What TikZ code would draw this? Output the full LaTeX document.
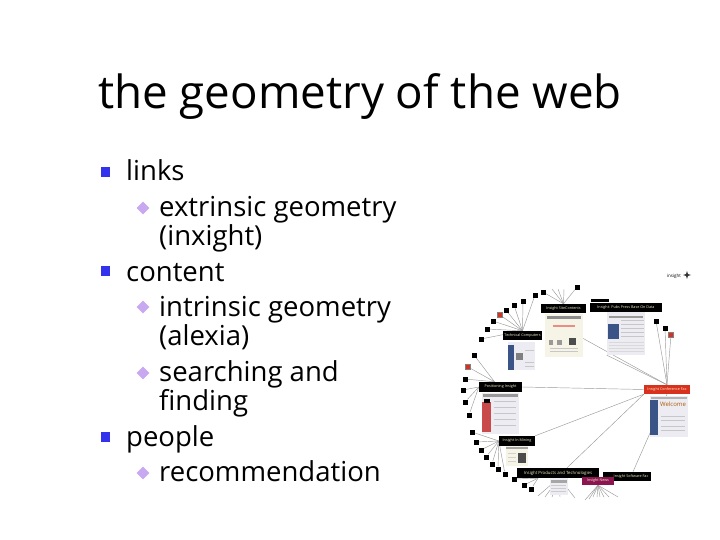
\documentclass[tikz,border=0pt]{standalone}
\usepackage{fontspec}
\setmainfont{Open Sans}
\usetikzlibrary{shapes.geometric,backgrounds}
\definecolor{bulletblue}{HTML}{3333EE}
\definecolor{bulletlilac}{HTML}{C8A8F0}
\definecolor{hubred}{HTML}{D8321E}
\definecolor{newsred}{HTML}{8C1450}
\definecolor{treegrey}{HTML}{9A9A9A}
\definecolor{pagecream}{HTML}{F6F4E6}
\definecolor{pagegrey}{HTML}{ECECF2}
\definecolor{sidenavy}{HTML}{3A5488}
\definecolor{sidered}{HTML}{C84A4A}
\definecolor{labelcream}{HTML}{F4EFC8}
\tikzset{
  titletext/.style={anchor=base west,inner sep=0pt,font=\fontsize{45.7}{46}\selectfont},
  itemtext/.style={anchor=base west,inner sep=0pt,font=\fontsize{27.5}{28}\selectfont},
  subtext/.style={anchor=base west,inner sep=0pt,font=\fontsize{27.5}{28}\selectfont},
  mainbullet/.style={fill=bulletblue,minimum size=9.5pt,inner sep=0pt},
  subbullet/.style={diamond,fill=bulletlilac,minimum size=13pt,inner sep=0pt},
  leaf/.style={fill=black,minimum size=5pt,inner sep=0pt},
  redleaf/.style={fill=hubred,draw=black!50,line width=0.4pt,minimum size=5pt,inner sep=0pt},
  pagelabel/.style={fill=black,text=labelcream,inner sep=0pt,font=\fontsize{3.7}{4}\selectfont},
  treeline/.style={treegrey,line width=0.45pt},
  page/.style={fill=#1,inner sep=0pt},
}
\begin{document}
\begin{tikzpicture}[x=1pt,y=-1pt]
  \useasboundingbox (0,0) rectangle (720,540);
  % title
  \node[titletext] (title) at (98,109) {the geometry of the web};
  % main items
  \foreach \name/\ypos/\txt in {links/181/links,content/281/content,people/446/people}
    \node[itemtext] (\name) at (126,\ypos) {\txt};
  \node[mainbullet] (bulletA) at (105.5,172) {};
  \node[mainbullet] (bulletB) at (105.5,271) {};
  \node[mainbullet] (bulletC) at (105.5,437) {};
  % sub items
  \foreach \name/\ypos/\txt in {extrinsic/216/extrinsic geometry,inxight/245/(inxight),
      intrinsic/316/intrinsic geometry,alexia/345/(alexia),searching/381/searching and,
      finding/410/finding,recommend/481/recommendation}
    \node[subtext] (\name) at (159,\ypos) {\txt};
  \foreach \name/\ypos in {diaA/208,diaB/307,diaC/373,diaD/473}
    \node[subbullet] (\name) at (143,\ypos) {};
  % logo
  \node[inner sep=0pt,font=\fontsize{4.5}{5}\selectfont] (logo) at (674,276) {insight};
  \node[star,star points=4,star point ratio=3,fill=black!80,minimum size=8pt,inner sep=0pt] (logostar) at (687,275) {};
  % thumbnails of the pages
  \node[page=pagecream,minimum width=38pt,minimum height=43pt] (pageA) at (564,335.5) {};
  \node[page=pagegrey,minimum width=38pt,minimum height=43pt] (pageB) at (626,333.5) {};
  \node[page=pagegrey,minimum width=27pt,minimum height=28pt] (pageC) at (521.5,356) {};
  \node[page=pagegrey,minimum width=37pt,minimum height=41pt] (pageD) at (500.5,413.5) {};
  \node[page=pagegrey,minimum width=38pt,minimum height=41pt] (pageE) at (669,416.5) {};
  \node[page=pagecream,minimum width=22pt,minimum height=20pt] (pageF) at (517,456) {};
  \node[page=pagegrey,minimum width=18pt,minimum height=17pt] (pageG) at (559,486.5) {};
  % details on the thumbnails
  \fill[black!45] (547,316) rectangle (581,319);
  \fill[hubred!55] (553,325) rectangle (575,327);
  \fill[black!70] (569,338) rectangle (576,345);
  \fill[black!40] (549,340) rectangle (553,345);
  \fill[black!40] (557,340) rectangle (562,345);
  \foreach \ypos in {348,351} \fill[black!22] (550,\ypos) rectangle (578,\ypos+1);
  \fill[sidenavy] (608,324) rectangle (619,339);
  \fill[black!40] (609,316) rectangle (643,318);
  \foreach \ypos in {320,324,328,332,336} \fill[black!22] (621,\ypos) rectangle (644,\ypos+1.2);
  \foreach \ypos in {342,345,348,351} \fill[black!15] (609,\ypos) rectangle (644,\ypos+1);
  \fill[sidenavy] (508,345) rectangle (514,370);
  \fill[black!50] (516,353) rectangle (523,360);
  \foreach \ypos in {350,362,366} \fill[black!22] (525,\ypos) rectangle (534,\ypos+1.2);
  \fill[sidered] (482,402) rectangle (491,432);
  \fill[black] (484,399) rectangle (490,403);
  \fill[black!40] (483,394) rectangle (518,397);
  \foreach \ypos in {401,407,413,419,425} \fill[black!22] (494,\ypos) rectangle (516,\ypos+1.2);
  \fill[sidenavy] (650,400) rectangle (658,435);
  \fill[black!30] (651,397) rectangle (687,399);
  \node[inner sep=0pt,text=orange!70!black,font=\fontsize{6}{6}\selectfont] (pageEtext) at (673,404) {Welcome};
  \foreach \ypos in {416,420,426,430} \fill[black!22] (661,\ypos) rectangle (685,\ypos+1.2);
  \fill[black!35] (506,447) rectangle (528,449);
  \fill[black!70] (518,453) rectangle (526,463);
  \foreach \ypos in {453,457,461} \fill[black!18] (508,\ypos) rectangle (516,\ypos+1.2);
  \fill[black!35] (551,480) rectangle (567,483);
  \foreach \ypos in {485,488,491} \fill[black!20] (551,\ypos) rectangle (566,\ypos+1);
  % page labels
  \node[pagelabel,minimum width=45pt,minimum height=9pt] (siteContents) at (563.5,308.5) {Insight SiteContents};
  \node[pagelabel,minimum width=72pt,minimum height=9pt] (pubsPress) at (626,307.5) {Insight: Pubs Press Base On Data};
  \node[pagelabel,minimum width=18pt,minimum height=3pt] (pubsBar) at (600,300.5) {};
  \node[pagelabel,minimum width=39pt,minimum height=9pt] (technical) at (522.5,335.5) {Technical Computers};
  \node[pagelabel,minimum width=43pt,minimum height=10pt] (positioning) at (500.5,387) {Positioning Insight};
  \node[pagelabel,fill=hubred,minimum width=46pt,minimum height=9pt] (conference) at (667,389.5) {Insight Conference Fac};
  \node[pagelabel,minimum width=36pt,minimum height=10pt] (mining) at (517,441) {Insight In Mining};
  \node[pagelabel,minimum width=82pt,minimum height=10pt,font=\fontsize{4.3}{5}\selectfont] (products) at (558,473) {Insight Products and Technologies};
  \node[pagelabel,minimum width=48pt,minimum height=9pt,align=right] (software) at (627,476.5) {\hspace{8pt}Insight Software Fac};
  \node[pagelabel,fill=newsred,minimum width=32pt,minimum height=8pt] (news) at (598,481) {Insight News};
  % leaves round the tree
  \foreach \i/\x/\y in {1/577/287,2/543/292,3/535/295,4/523/301,5/514/305,6/506/310,
      8/493/321,9/487/329,10/481/339,11/474/355,13/465/379,14/463/390,15/465/402,16/469/415,
      17/472/432,18/476/442,19/481/450,20/486/457,21/492/464,22/498/469,23/505/474,
      24/514/479,25/524/485,26/531/489,27/656/321,28/665/328}
    \node[leaf] (leaf\i) at (\x,\y) {};
  \node[redleaf] (leaf7) at (500,315) {};
  \node[redleaf] (leaf12) at (468,367) {};
  \node[redleaf] (leaf29) at (671,335) {};
  % open ends of the fans
  \foreach \i/\x/\y in {1/552/289,2/558/289,3/564/289,4/538/496,5/545/497,6/552/497,7/560/497,
      8/575/498,9/585/500,10/589/499,11/593/497,12/597/497,13/600/497,14/604/497,15/609/497,16/618/497}
    \coordinate (end\i) at (\x,\y);
  % tree lines
  \begin{scope}[on background layer]
  \foreach \i in {1,2,3} \draw[treeline] (end\i) -- (siteContents.north);
  \foreach \i in {1,2} \draw[treeline] (leaf\i) -- (siteContents.north);
  \foreach \i in {3,4,5,6,7,8,9,10} \draw[treeline] (leaf\i) -- (technical.north);
  \foreach \i in {11,12,13} \draw[treeline] (leaf\i) -- ([xshift=-6pt]positioning.north);
  \foreach \i in {14,15,16} \draw[treeline] (leaf\i) -- (positioning.west);
  \foreach \i in {17,18,19,20,21,22,23} \draw[treeline] (leaf\i) -- (mining.west);
  \foreach \i in {24,25,26} \draw[treeline] (leaf\i) -- ([xshift=-20pt]products.south);
  \foreach \i in {4,5,6,7,8} \draw[treeline] (end\i) -- (pageG.north);
  \foreach \i in {9,10,11,12,13,14,15,16} \draw[treeline] (end\i) -- (news.south);
  \foreach \i in {27,28,29} \draw[treeline] (leaf\i) -- (conference.north);
  \draw[treeline] (positioning.east) -- (conference.west);
  \draw[treeline] (pageA.east) ++(0,3) -- (conference.north);
  \draw[treeline] (pageB.south west) -- (conference.north);
  \draw[treeline] (mining.north east) -- (conference.south west);
  \draw[treeline] ([xshift=9pt]products.north) -- (conference.south west);
  \draw[treeline] ([xshift=6pt]software.north) -- (conference.south);
  \end{scope}
\end{tikzpicture}
\end{document}
